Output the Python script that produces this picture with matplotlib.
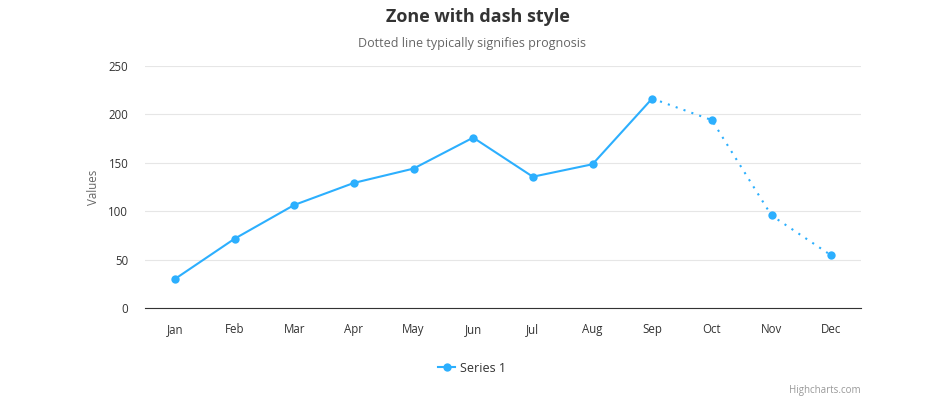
import matplotlib
matplotlib.use("Agg")
import matplotlib.pyplot as plt
from matplotlib.lines import Line2D

months = ['Jan', 'Feb', 'Mar', 'Apr', 'May', 'Jun', 'Jul', 'Aug', 'Sep', 'Oct', 'Nov', 'Dec']
values = [29.9, 71.5, 106.4, 129.2, 144.0, 176.0, 135.6, 148.5, 216.4, 194.1, 95.6, 54.4]
zone_end = 8  # solid up to Sep, dotted afterwards
y_ticks = [0, 50, 100, 150, 200, 250]

plt.rcParams['font.family'] = ['Open Sans', 'DejaVu Sans']
color = '#2caffe'

fig = plt.figure(figsize=(9.44, 4.08), dpi=100)
ax = fig.add_axes([145/944, 1-308/408, (861-145)/944, (308-66)/408])

x = list(range(len(months)))
ax.plot(x[:zone_end+1], values[:zone_end+1], color=color, lw=1.5,
        solid_capstyle='round', solid_joinstyle='round', zorder=3)
ax.plot(x[zone_end:], values[zone_end:], color=color, lw=1.5,
        linestyle=(0, (1, 3)), dash_capstyle='butt', zorder=3)
ax.plot(x, values, linestyle='none', marker='o', ms=6, color=color,
        markeredgewidth=0, zorder=4)

ax.set_xlim(-0.5, 11.5)
ax.set_ylim(0, 250)
ax.set_xticks(x)
ax.set_xticklabels(months)
ax.set_yticks(y_ticks)
ax.grid(axis='y', color='#e6e6e6', lw=0.8)
ax.set_axisbelow(True)
for s in ['top', 'right', 'left']:
    ax.spines[s].set_visible(False)
ax.spines['bottom'].set_color('#333333')
ax.spines['bottom'].set_linewidth(0.8)
ax.tick_params(axis='both', length=0, labelsize=8.3, colors='#333333')
ax.tick_params(axis='x', pad=11)
ax.tick_params(axis='y', pad=12)
ax.set_ylabel('Values', fontsize=8.3, color='#666666', labelpad=6)

fig.text(478/944, 1-17/408, 'Zone with dash style', ha='center', va='center',
         fontsize=13, fontweight='bold', color='#333333')
fig.text(472/944, 1-44/408, 'Dotted line typically signifies prognosis', ha='center',
         va='center', fontsize=9, color='#666666')

handle = Line2D([], [], color=color, lw=1.5, marker='o', ms=6, markeredgewidth=0)
fig.legend([handle], ['Series 1'], loc='center', bbox_to_anchor=(472/944, 1-368/408),
           frameon=False, fontsize=9, handlelength=1.3, handletextpad=0.4,
           labelcolor='#333333')

fig.text(861/944, 1-390/408, 'Highcharts.com', ha='right', va='center',
         fontsize=7, color='#999999')

fig.savefig('out.png', dpi=100)
